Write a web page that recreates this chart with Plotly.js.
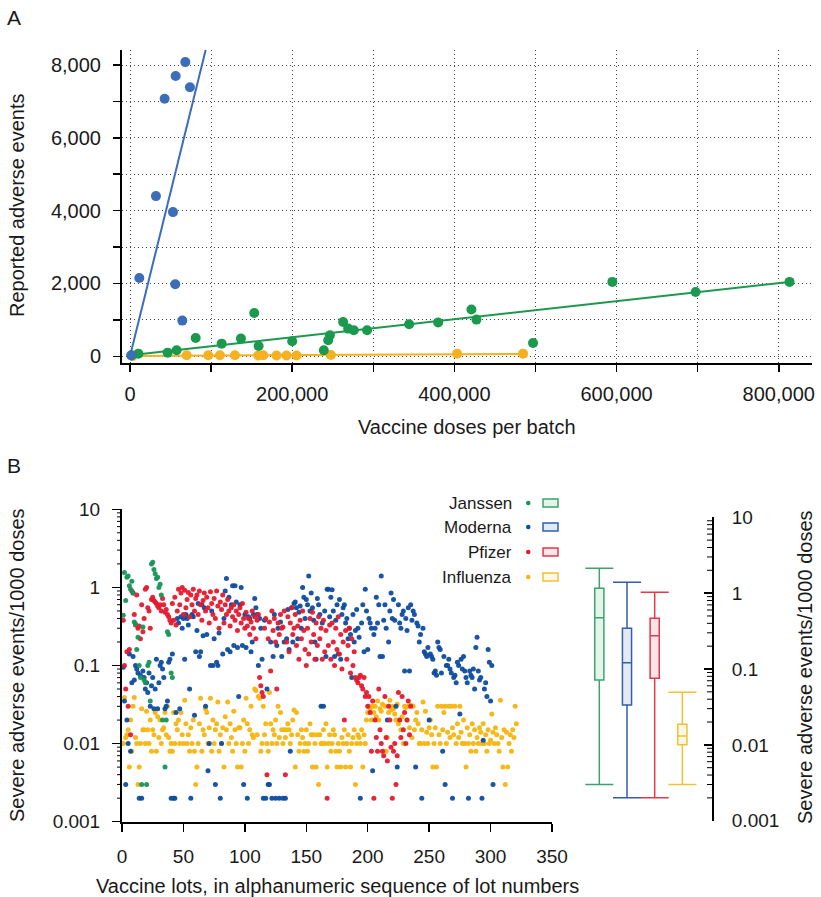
<!DOCTYPE html>
<html><head><meta charset="utf-8">
<script src="https://cdn.plot.ly/plotly-3.0.1.min.js"></script>
<style>html,body{margin:0;padding:0;background:#fff}#chart{width:821px;height:897px}</style>
</head><body><div id="chart"></div>
<script>
// ---------- Panel A data ----------
const aBlueDoses = [1500, 11500, 32000, 42700, 53000, 55800, 56300, 64500, 68200, 73900];
const aBlueEvents = [30, 2150, 4400, 7075, 3960, 1980, 7700, 980, 8080, 7390];
const aGreenDoses = [2000, 10300, 46400, 57500, 81000, 113000, 136800, 153200, 158600, 200000, 239000, 244400, 246500, 262800, 269000, 276000, 292400, 344200, 380000, 421000, 427200, 497000, 594800, 697500, 813300];
const aGreenEvents = [20, 73, 100, 165, 503, 348, 486, 1190, 283, 412, 165, 440, 577, 943, 761, 715, 715, 880, 926, 1283, 1008, 366, 2043, 1768, 2043];
const aOrangeDoses = [3000, 69900, 96500, 110900, 129400, 158100, 164300, 180700, 193000, 205400, 247700, 403300, 484700];
const aOrangeEvents = [5, 27, 27, 27, 27, 20, 27, 20, 20, 20, 35, 73, 73];
const aBlueFitX = [0, 93400], aBlueFitY = [0, 8420];
const aGreenFitX = [0, 815000], aGreenFitY = [30, 2045];
const aOrangeFitX = [0, 485000], aOrangeFitY = [10, 65];

// ---------- Panel B data (severe events per 1000 doses, by lot sequence 1..N) ----------
const janssen = [0.44,1.55,0.68,1.35,1.4,1.05,0.95,1.2,0.85,0.36,
  0.34,0.16,0.23,0.1,0.07,0.003,0.31,0.065,0.06,0.003,
  0.1,0.11,0.035,2.0,2.1,1.7,1.5,1.3,1.35,1.0,
  1.1,0.8,0.02,null,0.005,0.02,0.27,0.25,null,0.08,0.07];
const moderna = [0.095,0.035,0.003,0.02,0.01,0.14,0.008,0.06,0.13,0.065,
  0.1,0.09,0.08,0.002,0.075,0.002,0.085,0.07,0.05,0.06,
  0.045,0.08,0.03,0.055,0.07,0.028,0.05,0.12,0.028,0.06,
  0.1,0.11,0.09,0.07,0.028,0.03,0.035,0.11,0.12,0.002,
  0.14,0.002,0.002,0.025,0.4,0.35,0.028,0.42,0.3,0.4,
  0.12,0.45,0.4,0.33,0.05,0.002,0.45,0.42,0.023,0.15,
  0.28,0.62,0.13,0.15,0.6,0.24,0.55,0.03,0.25,0.0045,
  0.01,0.1,0.5,0.1,0.22,0.003,0.11,0.1,0.26,0.002,
  0.01,0.14,0.4,0.9,1.3,0.16,0.75,0.15,0.6,1.05,
  0.18,1.05,0.65,0.17,0.04,0.6,1.0,0.18,0.003,0.45,
  0.17,0.002,0.42,0.4,0.15,0.2,0.45,0.72,0.55,0.45,
  0.1,0.4,0.3,0.12,0.002,0.38,0.002,0.05,0.003,0.003,
  0.2,0.002,0.13,0.45,0.002,0.18,0.3,0.002,0.36,0.13,
  0.002,0.2,0.002,0.22,0.52,0.16,0.008,0.55,0.2,0.62,
  0.65,0.55,0.22,0.48,0.58,0.3,1.0,0.75,0.4,0.7,
  0.6,1.4,0.5,0.85,0.55,0.38,0.2,0.12,0.72,0.6,
  0.45,0.03,0.35,0.03,0.5,0.13,0.95,0.95,0.42,0.75,
  0.93,0.5,0.13,0.38,0.6,0.14,0.7,0.12,0.45,0.55,
  0.6,0.35,0.4,0.22,0.3,0.25,0.07,0.45,0.2,0.28,
  0.52,0.3,0.23,0.002,0.35,0.6,0.15,0.95,0.5,0.16,
  0.4,0.35,0.3,0.0045,0.25,0.3,0.75,0.35,0.6,0.13,
  1.4,0.13,0.38,0.6,0.3,0.02,0.2,0.5,0.85,0.4,
  0.7,0.38,0.03,0.005,0.6,0.35,0.3,0.45,0.5,0.085,
  0.4,0.28,0.55,0.085,0.6,0.38,0.5,0.45,0.005,0.35,
  0.32,0.2,0.25,0.002,0.3,0.15,0.14,0.13,0.17,0.02,
  0.14,0.13,0.12,0.08,0.085,0.075,0.2,0.17,0.16,0.08,
  0.008,0.13,0.003,0.1,0.1,0.12,0.09,0.08,0.002,0.07,
  0.075,0.06,0.11,0.1,0.024,0.12,0.09,0.13,0.085,0.07,
  0.06,0.002,0.085,0.075,0.07,0.09,0.05,0.17,0.23,0.085,
  0.065,0.07,0.002,0.011,0.05,0.06,0.04,0.16,0.11,0.035,
  0.1,0.003];
const pfizer = [0.38,0.1,0.05,0.15,0.03,0.16,0.013,0.9,0.85,0.45,
  0.33,0.8,0.3,0.32,0.22,0.6,0.27,0.4,0.95,1.0,
  0.55,0.5,0.3,0.7,0.75,0.68,0.65,0.62,0.58,0.55,
  0.6,0.5,0.72,0.6,0.48,0.52,0.45,0.42,0.38,0.35,
  0.62,0.38,0.75,0.33,0.5,0.95,0.6,0.85,1.0,0.45,
  0.92,0.55,0.7,0.86,0.42,0.8,0.6,0.95,0.5,0.72,
  0.8,0.45,0.9,0.6,0.38,0.68,0.85,0.5,0.75,0.55,
  0.35,0.88,0.62,0.45,0.72,0.4,0.9,0.58,0.3,0.65,
  0.52,0.8,0.35,0.6,0.45,0.7,0.5,0.32,0.55,0.42,
  0.6,0.38,0.5,0.28,0.45,0.55,0.35,0.62,0.4,0.3,
  0.48,0.32,0.4,0.25,0.36,0.5,0.3,0.42,0.22,0.38,
  0.45,0.07,0.055,0.045,0.04,0.3,0.4,0.004,0.22,0.36,
  0.085,0.5,0.28,0.4,0.2,0.05,0.35,0.25,0.45,0.3,
  0.31,0.5,0.004,0.2,0.42,0.15,0.35,0.55,0.25,0.3,
  0.45,0.18,0.32,0.12,0.38,0.22,0.5,0.28,0.16,0.1,
  0.3,0.14,0.4,0.2,0.48,0.25,0.12,0.35,0.18,0.42,
  0.22,0.3,0.12,0.38,0.15,0.28,0.002,0.18,0.33,0.12,
  0.35,0.2,0.1,0.3,0.16,0.42,0.14,0.25,0.09,0.2,
  0.02,0.28,0.12,0.18,0.3,0.08,0.22,0.1,0.15,0.07,
  0.065,0.06,0.07,0.075,0.055,0.05,0.07,0.04,0.045,0.03,
  0.04,0.025,0.008,0.035,0.002,0.02,0.012,0.008,0.05,0.015,
  0.01,0.008,0.007,0.04,0.012,0.006,0.03,0.02,0.009,0.002,
  0.008,0.01,0.003,0.007,0.045,0.02,0.012,0.04,0.015,0.025,
  0.01,0.02,0.035,0.013,0.03];
const influenza = [0.01,0.039,0.012,0.013,0.015,0.005,0.02,0.008,0.03,0.039,
  0.012,0.01,0.003,0.005,0.01,0.028,0.015,0.015,0.01,0.026,
  0.015,0.01,0.02,0.008,0.015,0.013,0.025,0.008,0.022,0.012,
  0.02,0.01,0.015,0.016,0.025,0.013,0.03,0.012,0.008,0.01,
  0.008,0.025,0.01,0.018,0.015,0.02,0.01,0.025,0.013,0.01,
  0.036,0.018,0.01,0.013,0.008,0.016,0.01,0.02,0.008,0.003,
  0.005,0.01,0.018,0.038,0.008,0.015,0.013,0.028,0.025,0.01,
  0.016,0.038,0.008,0.02,0.01,0.015,0.018,0.034,0.008,0.013,
  0.01,0.016,0.005,0.022,0.015,0.034,0.01,0.018,0.012,0.008,
  0.026,0.015,0.01,0.005,0.016,0.016,0.005,0.01,0.02,0.008,
  0.038,0.018,0.01,0.015,0.03,0.013,0.012,0.05,0.048,0.013,
  0.04,0.038,0.008,0.01,0.03,0.013,0.018,0.01,0.008,0.045,
  0.018,0.01,0.015,0.013,0.02,0.01,0.03,0.012,0.025,0.015,
  0.01,0.015,0.012,0.015,0.018,0.015,0.01,0.013,0.02,0.027,
  0.005,0.025,0.013,0.008,0.01,0.015,0.012,0.008,0.01,0.015,
  0.008,0.01,0.018,0.013,0.005,0.013,0.01,0.005,0.013,0.003,
  0.013,0.01,0.01,0.015,0.01,0.018,0.005,0.01,0.013,0.008,
  0.01,0.015,0.013,0.008,0.005,0.01,0.008,0.005,0.012,0.01,
  0.015,0.005,0.01,0.013,0.008,0.005,0.01,0.012,0.015,0.003,
  0.01,0.013,0.012,0.01,0.015,0.005,0.013,0.01,0.02,0.025,
  0.03,0.028,0.02,0.03,0.025,0.03,0.022,0.035,0.02,0.028,
  0.026,0.032,0.008,0.03,0.008,0.012,0.025,0.036,0.027,0.03,
  0.028,0.024,0.02,0.032,0.018,0.02,0.015,0.022,0.01,0.03,
  0.029,0.02,0.03,0.016,0.031,0.012,0.03,0.015,0.02,0.025,
  0.018,0.01,0.01,0.015,0.034,0.01,0.026,0.014,0.01,0.016,
  0.02,0.013,0.005,0.01,0.016,0.005,0.03,0.013,0.01,0.03,
  0.015,0.025,0.03,0.01,0.014,0.03,0.012,0.03,0.016,0.013,
  0.03,0.01,0.018,0.012,0.03,0.014,0.01,0.02,0.01,0.005,
  0.016,0.01,0.013,0.008,0.018,0.01,0.015,0.008,0.012,0.01,
  0.016,0.014,0.01,0.018,0.01,0.013,0.008,0.015,0.01,0.011,
  0.024,0.014,0.01,0.016,0.013,0.01,0.008,0.036,0.012,0.005,
  0.015,0.003,0.014,0.005,0.01,0.013,0.008,0.015,0.012,0.03,
  0.018];

// ---------- Box summaries ----------
const boxNames = ['Janssen', 'Moderna', 'Pfizer', 'Influenza'];
const boxQ1 = [0.0716, 0.0335, 0.0753, 0.0100];
const boxMedian = [0.474, 0.121, 0.275, 0.0131];
const boxQ3 = [1.16, 0.344, 0.466, 0.0187];
const boxLow = [0.003, 0.002, 0.002, 0.003];
const boxHigh = [2.13, 1.39, 1.03, 0.0493];

// log-axis tick positions
const logMajorTicks = [0.001, 0.01, 0.1, 1, 10];
const logMajorText = ['0.001', '0.01', '0.1', '1', '10'];
const logMinorMultipliers = [2, 3, 4, 5, 6, 7, 8, 9];

// ---------- styling ----------
const W = 821, H = 897;
const px = v => v / W;
const py = v => 1 - v / H;
const FONT = 'Liberation Sans, Arial, Helvetica, sans-serif';
const aColors = {blue: '#3b6db9', green: '#1b9a4e', orange: '#f5b120'};
const bColors = ['#17935a', '#0e4c9e', '#e5192d', '#f5b50f'];
const boxLine = ['#3aa46c', '#2f5fae', '#e2394b', '#f0c233'];
const boxFill = ['rgba(58,164,108,0.13)', 'rgba(47,95,174,0.13)', 'rgba(226,57,75,0.13)', 'rgba(240,194,51,0.13)'];

// panel geometry (pixels)
const B_LEFT = {top: 509.3, bottom: 821.7, axisX: 122};
const B_RIGHT = {top: 517.3, bottom: 820.7, axisX: 712};

const lots = arr => arr.map((v, i) => i + 1);
const traces = [];

// Panel A
function aScatter(x, y, c, name) {
  return {type: 'scatter', mode: 'markers', x, y, xaxis: 'x', yaxis: 'y', name,
    marker: {color: c, size: 10}, hoverinfo: 'x+y'};
}
function aLine(x, y, c, name) {
  return {type: 'scatter', mode: 'lines', x, y, xaxis: 'x', yaxis: 'y', name,
    line: {color: c, width: 2}, hoverinfo: 'skip'};
}
traces.push(aLine(aOrangeFitX, aOrangeFitY, aColors.orange, 'fit 3'));
traces.push(aLine(aGreenFitX, aGreenFitY, aColors.green, 'fit 2'));
traces.push(aLine(aBlueFitX, aBlueFitY, aColors.blue, 'fit 1'));
traces.push(aScatter(aOrangeDoses, aOrangeEvents, aColors.orange, 'series 3'));
traces.push(aScatter(aGreenDoses, aGreenEvents, aColors.green, 'series 2'));
traces.push(aScatter(aBlueDoses, aBlueEvents, aColors.blue, 'series 1'));

// Panel B scatter
const bSeries = [janssen, moderna, pfizer, influenza];
[3, 1, 2, 0].forEach(k => {
  traces.push({type: 'scatter', mode: 'markers', x: lots(bSeries[k]), y: bSeries[k],
    xaxis: 'x2', yaxis: 'y2', name: boxNames[k],
    marker: {color: bColors[k], size: 5, opacity: 0.95}});
});

// Panel B boxes
boxNames.forEach((n, k) => {
  traces.push({type: 'box', xaxis: 'x3', yaxis: 'y3', name: n, x: [k + 1],
    q1: [boxQ1[k]], median: [boxMedian[k]], q3: [boxQ3[k]],
    lowerfence: [boxLow[k]], upperfence: [boxHigh[k]],
    width: 0.33, whiskerwidth: 0, boxpoints: false,
    line: {color: boxLine[k], width: 1.5}, fillcolor: boxFill[k]});
  traces.push({type: 'scatter', mode: 'markers', xaxis: 'x3', yaxis: 'y3', name: n + ' whisker',
    x: [k + 1, k + 1], y: [boxLow[k], boxHigh[k]], hoverinfo: 'skip',
    marker: {symbol: 'line-ew', size: 20, color: boxLine[k], line: {color: boxLine[k], width: 1.5}}});
});

const gridStyle = {showgrid: true, gridcolor: '#444', griddash: '1px,3px', gridwidth: 1};
const layout = {
  width: W, height: H, margin: {l: 0, r: 0, t: 0, b: 0},
  paper_bgcolor: '#fff', plot_bgcolor: 'rgba(0,0,0,0)', showlegend: false,
  font: {family: FONT, size: 20, color: '#1a1a1a'},
  xaxis: Object.assign({domain: [px(122), px(812)], range: [-9864, 841000], anchor: 'y',
    showline: true, linecolor: '#000', linewidth: 2, zeroline: false,
    ticks: 'outside', ticklen: 7, tickwidth: 1.5, tickcolor: '#000',
    tick0: 0, dtick: 200000, tickformat: ',', ticklabelstandoff: 5,
    minor: Object.assign({dtick: 100000, tick0: 0, ticks: 'outside', ticklen: 7, tickwidth: 1.5, tickcolor: '#000'}, gridStyle)
  }, gridStyle),
  yaxis: Object.assign({domain: [py(363), py(50)], range: [-184, 8412], anchor: 'x',
    showline: true, linecolor: '#000', linewidth: 2, zeroline: false,
    ticks: 'outside', ticklen: 7, tickwidth: 1.5, tickcolor: '#000',
    tick0: 0, dtick: 2000, tickformat: ',', ticklabelstandoff: 8,
    minor: Object.assign({dtick: 1000, tick0: 0, ticks: 'outside', ticklen: 7, tickwidth: 1.5, tickcolor: '#000'}, gridStyle)
  }, gridStyle),
  xaxis2: {domain: [px(122), px(552)], range: [0, 350], anchor: 'y2',
    showline: true, linecolor: '#000', linewidth: 2, zeroline: false, showgrid: false,
    ticks: 'outside', ticklen: 8, tickwidth: 1.5, tickcolor: '#000',
    tick0: 0, dtick: 50, ticklabelstandoff: 8, tickfont: {size: 19}},
  yaxis2: {type: 'log', domain: [py(B_LEFT.bottom), py(B_LEFT.top)], range: [-3, 1], anchor: 'x2',
    showline: true, linecolor: '#000', linewidth: 2, zeroline: false, showgrid: false,
    ticks: 'outside', ticklen: 8, tickwidth: 1.5, tickcolor: '#000',
    tickmode: 'array', tickvals: logMajorTicks, ticktext: logMajorText,
    ticklabelstandoff: 8, tickfont: {size: 19}},
  xaxis3: {domain: [px(578), px(712)], range: [0.23, 5.07], anchor: 'y3', visible: false},
  yaxis3: {type: 'log', domain: [py(B_RIGHT.bottom), py(B_RIGHT.top)], range: [-3, 1], anchor: 'x3', side: 'right',
    showline: true, linecolor: '#000', linewidth: 2, zeroline: false, showgrid: false,
    ticks: 'inside', ticklen: 8, tickwidth: 1.5, tickcolor: '#000',
    tickmode: 'array', tickvals: logMajorTicks, ticktext: logMajorText,
    ticklabelstandoff: 14, tickfont: {size: 19}},
  annotations: [],
  shapes: []
};

// minor log tick marks (2..9 in each decade) drawn as short axis-tick shapes
function addMinorTicks(geom, x0, x1) {
  const decadePx = (geom.bottom - geom.top) / 4;
  for (let d = -3; d < 1; d++) {
    logMinorMultipliers.forEach(m => {
      const yPix = geom.bottom - (d + 3 + Math.log10(m)) * decadePx;
      layout.shapes.push({type: 'line', xref: 'paper', yref: 'paper', layer: 'above',
        x0: px(x0), x1: px(x1), y0: py(yPix), y1: py(yPix), line: {color: '#000', width: 1}});
    });
  }
}
addMinorTicks(B_LEFT, B_LEFT.axisX - 5, B_LEFT.axisX - 1);
addMinorTicks(B_RIGHT, B_RIGHT.axisX - 5, B_RIGHT.axisX);

function ann(text, x, y, opts) {
  layout.annotations.push(Object.assign({text, x: px(x), y: py(y), xref: 'paper', yref: 'paper',
    showarrow: false, xanchor: 'center', yanchor: 'middle', font: {size: 20, family: FONT, color: '#1a1a1a'}}, opts || {}));
}
ann('A', 5, 18, {xanchor: 'left', font: {size: 21, family: FONT, color: '#1a1a1a'}});
ann('B', 5, 465, {xanchor: 'left', font: {size: 21, family: FONT, color: '#1a1a1a'}});
ann('Reported adverse events', 17, 206, {textangle: -90});
ann('Vaccine doses per batch', 467, 427);
ann('Severe adverse events/1000 doses', 17, 665, {textangle: -90});
ann('Vaccine lots, in alphanumeric sequence of lot numbers', 337, 886);
ann('Severe adverse events/1000 doses', 805, 667, {textangle: -90});

// legend for panel B
const legendRows = [503, 527, 552, 577];
boxNames.forEach((n, k) => {
  const yy = legendRows[k];
  ann(n, 514, yy, {xanchor: 'right', font: {size: 17, family: FONT, color: '#1a1a1a'}});
  layout.shapes.push({type: 'circle', xref: 'paper', yref: 'paper',
    x0: px(526), x1: px(530.5), y0: py(yy + 2.2), y1: py(yy - 2.2),
    fillcolor: bColors[k], line: {width: 0}});
  layout.shapes.push({type: 'rect', xref: 'paper', yref: 'paper',
    x0: px(543), x1: px(558), y0: py(yy + 4), y1: py(yy - 4),
    fillcolor: boxFill[k], line: {color: boxLine[k], width: 1.5}});
});

Plotly.newPlot('chart', traces, layout, {staticPlot: true, displayModeBar: false});
</script></body></html>
